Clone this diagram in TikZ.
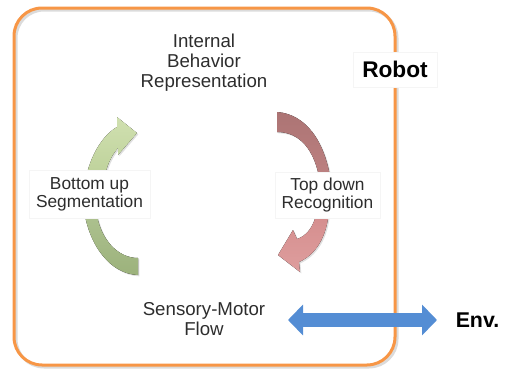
\documentclass[tikz,border=0pt]{standalone}
\usepackage{fontspec}
\setmainfont{Liberation Sans}
\usetikzlibrary{arrows.meta,shadows}

\definecolor{frameorange}{RGB}{247,150,70}
\definecolor{flowblue}{RGB}{84,141,212}
\definecolor{greenA}{RGB}{208,224,176}
\definecolor{greenB}{RGB}{188,208,152}
\definecolor{greenC}{RGB}{174,194,144}
\definecolor{greenD}{RGB}{156,178,124}
\definecolor{redA}{RGB}{172,116,116}
\definecolor{redB}{RGB}{190,130,130}
\definecolor{redC}{RGB}{212,140,140}
\definecolor{redD}{RGB}{222,158,158}
\definecolor{textgray}{RGB}{45,45,45}

\tikzset{
  softshadow/.style={drop shadow={shadow xshift=1pt, shadow yshift=-1pt, fill=black, opacity=0.12}},
  caption/.style={align=center, text=textgray, inner sep=0pt,
    font=\fontsize{14}{15}\selectfont},
  labelbox/.style={align=center, text=textgray, fill=white, draw=black!4,
    line width=0.4pt, inner sep=0pt, font=\fontsize{13}{13.5}\selectfont},
  tag/.style={inner sep=0pt, text=black, font=\bfseries\fontsize{17}{17}\selectfont},
}

\begin{document}
\begin{tikzpicture}[x=0.75pt, y=-0.75pt]
\useasboundingbox (0,0) rectangle (508,371);

% robot frame with a faint offset shadow
\draw[line width=2.25pt, black, opacity=0.14, rounded corners=21pt] (16,10) rectangle (397,367);
\draw[line width=2.25pt, frameorange, rounded corners=21pt] (14,8) rectangle (395,365);

% left cycle arrow: segmentation (upper part with head, lower tail)
\fill[softshadow, top color=greenA, bottom color=greenB]
  (85,182) .. controls (90,155) and (103,135) .. (117,127) -- (117,117) -- (137,133)
  -- (118,155) -- (118,148) .. controls (112,155) and (106,165) .. (104,182) -- cycle;
\fill[softshadow, top color=greenC, bottom color=greenD]
  (84,210) .. controls (89,245) and (110,274) .. (138,275) -- (138,258)
  .. controls (118,258) and (100,240) .. (96,210) -- cycle;

% right cycle arrow: recognition (upper tail, lower part with head)
\fill[softshadow, top color=redA, bottom color=redB]
  (277,112) .. controls (305,114) and (325,140) .. (331,182) -- (320,182)
  .. controls (315,150) and (300,132) .. (277,132) -- cycle;
\fill[softshadow, top color=redC, bottom color=redD]
  (317,210) .. controls (314,228) and (306,236) .. (297,239) -- (293,230) -- (278,255)
  -- (300,272) -- (299,262) .. controls (315,255) and (327,238) .. (329,210) -- cycle;

% labels of the cycle
\node[caption] (ibr) at (204,63) {Internal\\Behavior\\Representation};
\node[caption] (smf) at (204,319) {Sensory-Motor\\Flow};
\node[labelbox, minimum width=90.75pt, minimum height=36pt] (bus) at (89.5,194) {Bottom up\\Segmentation};
\node[labelbox, minimum width=78.75pt, minimum height=34.5pt] (tdr) at (327.5,195) {Top down\\Recognition};

% robot tag and environment
\node[tag, fill=white, draw=black!4, line width=0.4pt, minimum width=63pt, minimum height=26pt] (robot) at (395,69.5) {Robot};
\node[tag, font=\bfseries\fontsize{16}{16}\selectfont] (env) at (477.5,320.5) {Env.};

% exchange between the sensory-motor flow and the environment
\coordinate (flowL) at (288,320);
\coordinate (flowR) at (437,320);
\draw[softshadow, flowblue, line width=10.5pt,
  {Triangle[length=11.25pt, width=22.5pt]}-{Triangle[length=11.25pt, width=22.5pt]}]
  (flowL) -- (flowR);
\end{tikzpicture}
\end{document}
